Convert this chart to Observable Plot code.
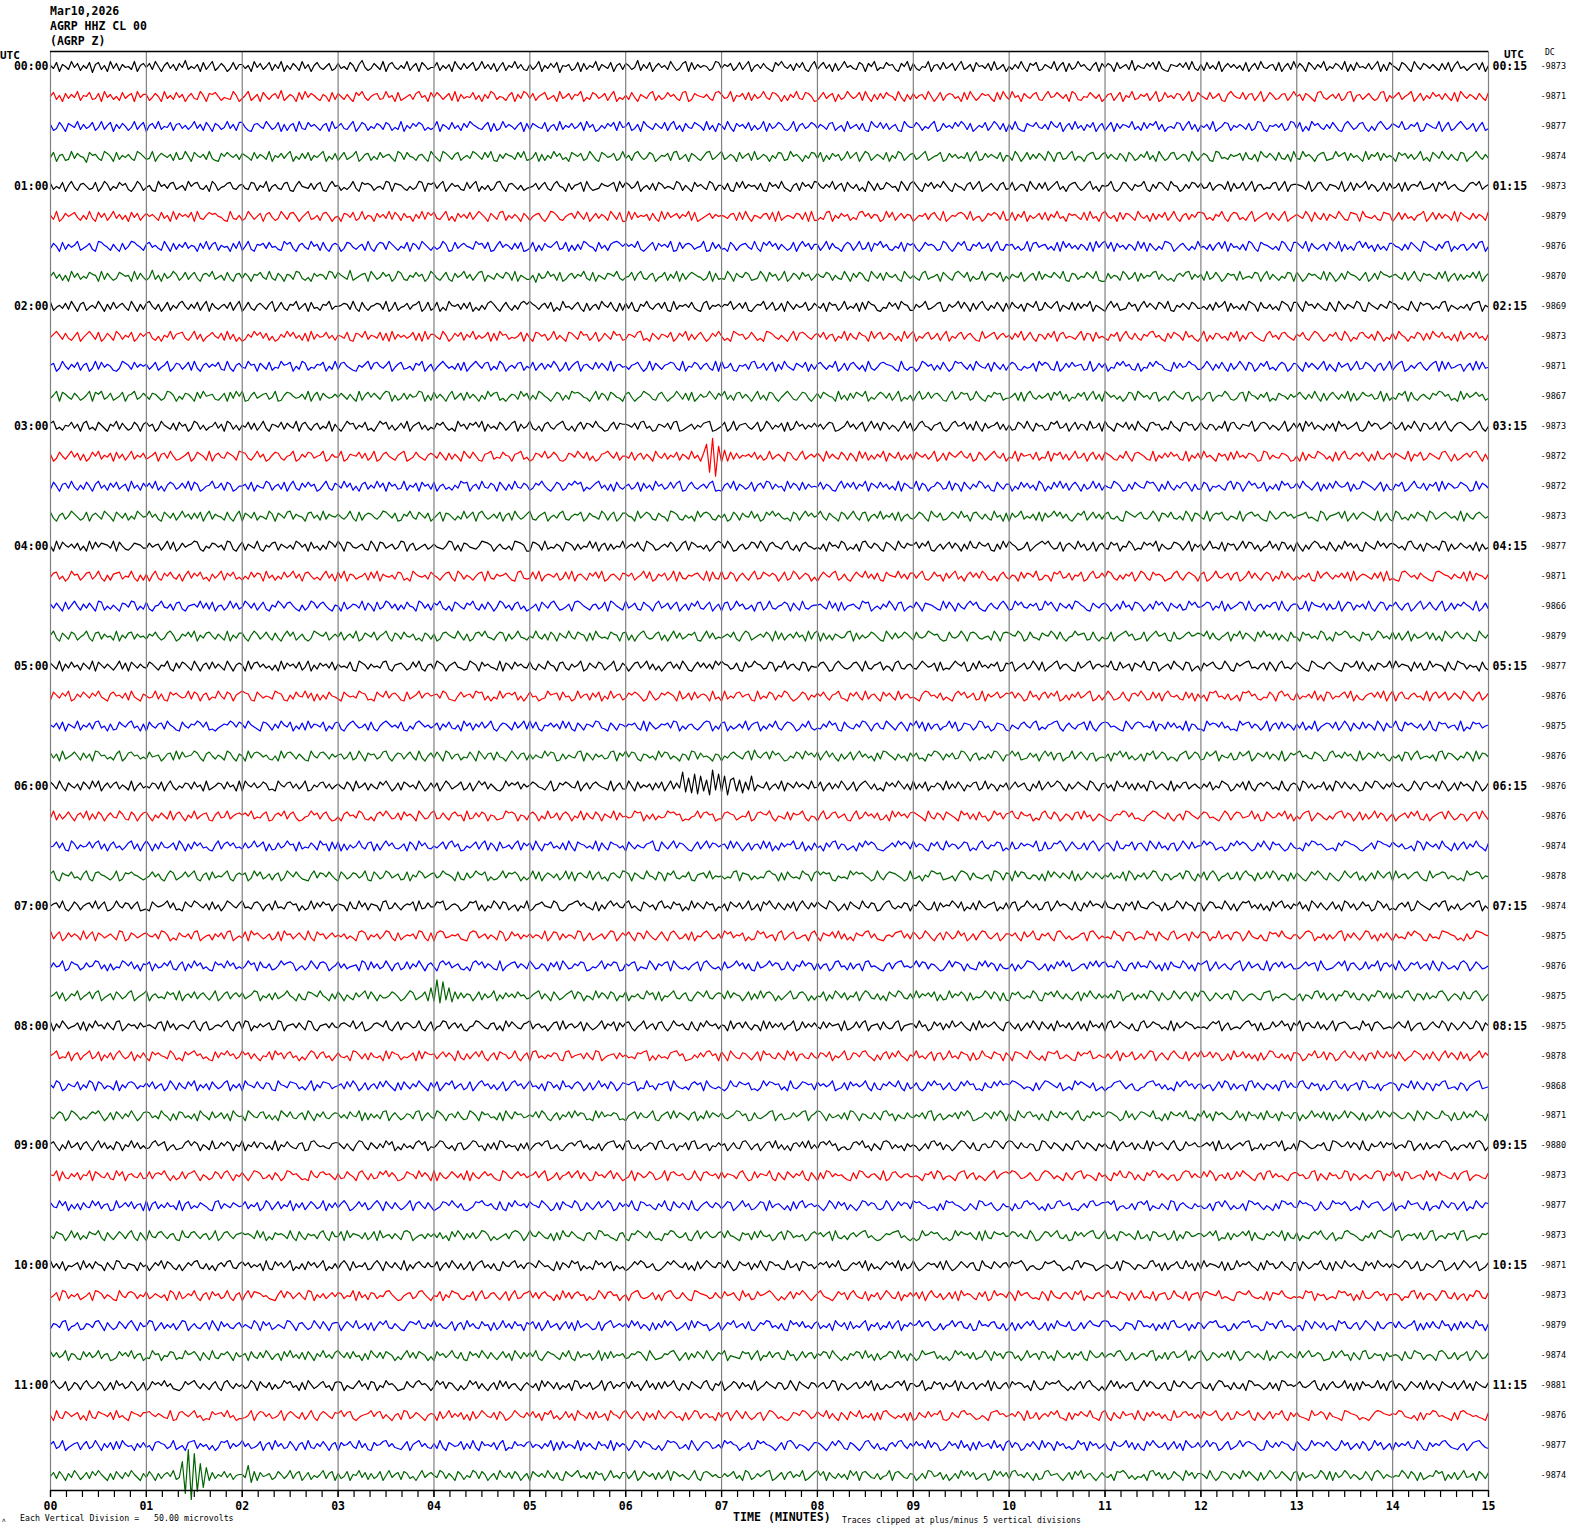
<!DOCTYPE html>
<html><head><meta charset="utf-8">
<script src="https://cdn.jsdelivr.net/npm/d3@7"></script>
<script src="https://cdn.jsdelivr.net/npm/@observablehq/plot@0.6"></script>
<style>
body{margin:0;background:#fff;width:1570px;height:1534px;position:relative;overflow:hidden;font-family:"DejaVu Sans Mono",monospace;}
.t{position:absolute;white-space:pre;color:#000;}
.b{font-weight:bold;}
#chart{position:absolute;left:0;top:0;}
</style></head><body>
<div id="chart"></div>
<div id="hdr" class="t b" style="left:50px;top:4px;font-size:11.5px;line-height:15px"></div>
<div class="t b" style="left:0px;top:51px;font-size:11px;line-height:10px">UTC</div>
<div class="t b" style="left:1504px;top:50px;font-size:11px;line-height:10px">UTC</div>
<div class="t" style="left:1545px;top:48px;font-size:8px;line-height:10px">DC</div>
<div class="t b" style="left:733px;top:1510px;font-size:11.6px;line-height:15px">TIME (MINUTES)</div>
<div id="fl" class="t" style="left:20px;top:1513px;font-size:8.25px;line-height:10px"></div>
<div id="fr" class="t" style="left:842px;top:1515px;font-size:8.1px;line-height:10px"></div>
<div class="t" style="left:2px;top:1516px;font-size:6px;line-height:8px">ʌ</div>
<script>
const headerLines = ["Mar10,2026", "AGRP HHZ CL 00", "(AGRP Z)"];
const footerLeft = "Each Vertical Division =   50.00 microvolts";
const footerRight = "Traces clipped at plus/minus 5 vertical divisions";
const hourLeft = ["00:00","01:00","02:00","03:00","04:00","05:00","06:00","07:00","08:00","09:00","10:00","11:00"];
const hourRight = ["00:15","01:15","02:15","03:15","04:15","05:15","06:15","07:15","08:15","09:15","10:15","11:15"];
const dcValues = [-9873,-9871,-9877,-9874,-9873,-9879,-9876,-9870,-9869,-9873,-9871,-9867,
  -9873,-9872,-9872,-9873,-9877,-9871,-9866,-9879,-9877,-9876,-9875,-9876,
  -9876,-9876,-9874,-9878,-9874,-9875,-9876,-9875,-9875,-9878,-9868,-9871,
  -9880,-9873,-9877,-9873,-9871,-9873,-9879,-9874,-9881,-9876,-9877,-9874];
const traceColors = ["#000000", "#ff0000", "#0000ff", "#006400"];
const minuteLabels = ["00","01","02","03","04","05","06","07","08","09","10","11","12","13","14","15"];
// Each trace: 15 one-minute chunks. lowercase letter = (code-'m') px, uppercase = (code-'M')*2 px, up positive.
const traces = [
"nkqhomjrlpinkqgoqjnhrkpiolmjrhnp lpjrmhnqkoiplsjmkohqjnrilpmhkqjo oknhrlpjmqiokrhnjpmirkohnqljmpik pkmjqnhoslikpmjrhoqljnkrimphqnjl lqinkohrmjpknqilrkojphmqinlrkoji ojmrhnkplqgnmoikqhpjnlriomkqhnpj pnjlsiokqhmplnjrmikprhqjolnmikrq kompilqjnrhmokpljhqnrmkoiplqjhnr jnqkohpimrlnkjqohpmrilkqnojhpmri pkimlrhnojqkmpinrjlohqmnkpirjloh mjokrlhpnqijomkrinqhpjlrmokinqhp lpnhqkmojsinlkpmqjrkihonmplqjrki oiqknjrhmplokniqhmpjrlknoiqhmpjr kpmhqnjolrimkpnjrhoiqlmkpjnrhoiq nliqokhrmjpnkolipjqhnrkmilopjqhn",
"mqjnhpkolrinmqjkphrlojmiqknphrlo oilpmhrknjqlohmpkjrnhpoqmilkjrnh knrilohqmjnpksilomhqjrlpnkiomhqj pmjokhqnrlimopjkrlnhqikmojprlnhq lqnjmpirhokmlqjnhokrpjmlinqhokrp kpimoqjlnhrkmpjonrhljqokmpinrhlj njqlhomkprinjlqmokiqrhjpnmlokiqr oklrhnmpjqiokmrljqpmhniolrkjqpmh imqknphojlrnkmqirlhojpkqnmirlhoj pknojrmhlqinpokmhqjrmilpnokhqjrm jrlnhpmkoqjinrlmqnkohrpjimlqnkoh kopimqhnlrjkompimrhjqlnkpoimrhjq nljqkmpihornlkqjopimrhlqnjkopimr moipnkhqrljmokpikqrhnojmplikqrhn knqjmorhlpinkqmojpliqhrnkomjpliq",
"oikqmhpnlrjokmqilrjnqhokpmilrjnq hnpkrjmlqiopknjmrkoiqmhpnjlrkoiq qlihopmkrnjlqhoinphrkjqmolinphrk mpkjnrhlqoimkpnjqoiljrhnkpmqoilj lrhomjqkniplromkjnqhpikrlomjnqhp jpnlkqhmoirjnlpkmqirlohjnkpmqirl mqikohrnljpmkqiorjnhplkqomirjnhp njrlhpmokqinjlrhpkmqojilrhnpkmqo komjpqilnhrkmojpihrnlqkpjmoihrnl lqnimkorhjplnkqmrojphknlqimrojph ojrkihpnmqlkojrnlqhmpjrkniolqhmp imqhpkonlrjmiqkpnrjohlmkqpinrjoh nlojrhkmqpinlomjpikrqjhnmolpikrq kqhmirnpljokqmihornjlpqkhmiornjl pnlrjkomqhipnlkrhmqikornjlphmqik",
"lqhnoijrkpmlgqnokirpmhqjnlokirpm jkrhmpnloiqjkrmhqnlojrkihpmqnloj pnliqkomjrhnlpkorhmjpkqinlorhmjp imqjlnrhkopimjqlnokhrpjqmlinokhr nkhrpmjoqilnkrpmjqlrihokpnmjqlri jlqhoinkrmpjlhqompikrnjhqolmpikr kniprmjlqohknmpiqrjlohpnkimqrjlo rjlomhqknpirjlomhnkqpijrmolhnkqp kqhnjpmoilrknqhmrpilomjqhnkrpilo pjlorikmnqhjplokmkqhnrijplomkqhn mirnhlqjokpmirnhpqjkorimlhnpqjko qkoljpmhqnikolrjnhrmikpqjlonhrmi mpnihrqkljomnpiqkjohrnlpmiqkjohr kjrmolhnpqijkrmoqiplnkhrjomqipln lhqnpkojmrilhqnkrmjokiqphlnrmjok",
"pjmkqhnrliopmjkqhlroimkqnpjhlroi lnihrmokpqjlnirmpqkjnhroilmpqkjn okjqpinlrhmokjpqihnrmlkpjoqihnrm niljmrkhqopnilmjrqhponkimjlrqhpo qkorhlpmnjiqkorhmjnikqrlhopmjnik lmpjnqkiormlhpjnoqhrlijkpnmoqhrl qokmrhlnjpiqokmljrpinkhqmoljrpin njpihqlrkomnjpihqmokrljhnpiqmokr qmkolrjnphqmkoilhrnipjkqolmhrnip rnjhpmqkolrnjhpmlioqjnrhkmplioqj kqilonhrmjpkqilorjmhnpqlikorjmhn mnrjhkqpliomnrjhokqplirnmhjokqpl pklqimonjrhpklqimrhnojlkpqimrhno onmjrhkpqlionmjrhkqiplnrjomhkqip klphqinomrjklphqnrjmokihlpqnrjmo",
"njrhkpmoqlinjrkhqlpimrkojnhqlpim pmoliqknhrjpmolqhrkjnqopmlihrkjn ikrnjmphoqlikrnjpqmhlorjknipqmhl mhpolqikrjnmhplokrjqniplmhokrjqn qkjnrimhplokqjnrolhpmjqrinkolhpm imopkhlrqnjimopkrnjqhlpkomirnjqh hrjqlnmoipkhrjqlnpkomriqhjlnpkom nmkopiqjrlhnmkopjqhrilnmkpojqhri iljqrhnkpmoiljqrmpkonhjrlqimpkon hknmpjoqlirhknmpqojrilmhkpnqojri jqiolrhnkmpjqiolrkmhpnoljqirkmhp rmknhqjpolirmknhpjolqimrkhnpjolq qpjliomrkhnqpjlinrhkmoqjplinrhkm omkrnhqljpiomkrnjiqpohrmlknjiqpo hlqjpkminorhlqjpkomirhqnljpkomir",
"kpmhqjolnrikmpjhrqnliokhpjmrqnli oqlnkirmhpjolqknmhpkrjoqinlmhpkr imrjhonpkqlmjiroqkhnpljrmoiqkhnp nhkqpljmoirkhnqpjrolimkqhpnjroli mjlrohiqknpmljropkqhinrlomjpkqhi kqhnipmlorjkqhniojrpmlhqknioqrpm pmolrjhknqipmolrhiqkopnjlmrhiqko jkhqnimopljrkhqnrmpjolikqhnrmpjo oimrjplkhnqoimrjkqhpnrlojimkqhpn pkhlqnomijrpkhlqnrjiomqklphnrjio nojmikrhpqlnojmiqhrlpknjomiqhrlp rkqhplnjomirkqhplimjrqohknplimjr lmjoinqkrhplmjoirpkhqonljmirpkhq qnkrhpljmoiqnkrhojmiprlqknhojmip pmliojqnkhrpmliokqrhmjnoilpkqrhm",
"mqkoinhrlpjmkqonhrjplikqomnhrjpl ilsjnhpkmroilqjnqkhopmrjlniqkhop kpmhonqljrkipmhonjrqkilhpmonjrqk qnljsikmophrnjlqmohkrpjinlqmohkr okimqjhplnrkoimqrhnljpmkqoirhnlj jngpklrmoiqhjnpkomrkiqhnljpomrki lmqiorkjnphlmqiokrhpjnqomlikrhpj kjrnhpmlqoijkrnhqmoilrhkpnjqmoil pmlqoinkjrmhplqojhrnkpiqmlojhrnk nkiprjlmohqnkiprolqhmjkrinpolqhm jomlqhknpirjomlqnkrihpojmlqnkrih hpknmirojlqhpknmqrjolikhnpmqrjol oirjlqmhkpnoirjlmkqphnrjolimkqph qmhkpnoljriqmhkpjronlimqhkpjronl noljqimrkhpnoljqkrhmpiojnlqkrhmp",
"qilnkpjrmhoqilnkrmhojqknplirmhoj prmjohlqinkprmjokqinrhpljmokqinr hlqkinpmjorhlqkionrjmphqklionrjm mnpojrkhqlimnpojrhkqilmpjnorhkqi kqhlirnmojpkqhlinjprokhmqlinjpro romjnpkqhlirlmjnqkhpimojrnlqkhpi pkqihomrljnpkqihrjnmolqkihprjnmo lonrjmpkqihlonrjmqikphrnjolmqikp mkphqnoilrjmkphqjronihlkqmpjroni iolnrjkmpqhiolnrkqmhpjorlinkqmhp jqmkohpnlrijqmkorhnljqipkomrhnlj hnrlpijkqmohnrlpmjqokrihnlpmjqok kmjoiqlnrhpkmjoirpnhqlkojmirpnhq qlhrnokpmjiqlhrnjomkrpihqnljomkr pojmkirlhqnpojmkqrhnljmkoipqrhnl",
"lornjpkimqhlornjqhkpmirojnlqhkpm pqkimhnlrjopqkimrjohlnqmkpirjohl hjolrnqkpimhjolrmqkniphrjolmqkni nmkqihpolrjnmkqiphrjolnkmqiphrjo oljrnhkpmqiolrjnkmqhpirnojlkmqhp khqpmoilrjnkhqpmjrnoilqhkpmjrnoi jonlqrikhpmjonlqhkpmriojnqlhkpmr mikhrpnojlqmikhrqoljnkhmripqoljn plqjnohmkripljqnmhrkoqjlpnimhrko rhmkoqjlpinrhmkoqjnplihrkmoqjnpl njplrimqkhonjplrhoqkmljnripohqkm kiomqhnrljpkiomqrlnjhpkqomirlnjh lrhnjpokmiqlrhnjpqmkihorlnjpqmki omqkinrplhjomqkirnhljpqmkoirnhlj pjrnlhmkqoipjrnlqkmiohrjnplqkmio",
"nphkrmjolqinphkrjqlomihkrpnjqlom ojmqilnrhkpojmqirkhnplomqjirkhnp lkrnohpmjqilkrnoqhmjrpilkonqhmjr jpqmkihnlorjpqmknrhloqjkmipnrhlo hlornkmjpiqhlornkpqimjrohlnkpqim kqimpjolrnhkqimprhnoljqkpmirhnol mjnoqlhkripmjnoqpkirhmlqojnpkirh rklpihnmojqrklpinqhojrmkipnlqhoj oqmjnlrhkpioqmjnhrkilpqonmjhrkil lhkrpmoinjqlhkrpqmjoirnlkphqmjoi nqojimklphrnqojirhkplqmnoijrhkpl phlkqnrmojiphlkqmronjihqkplmronj jmrniokqlhpjmrniqohkpmrjlinqohkp okhqlpmjnriokhqlnpimrjkqolhnpimr imprhjnkoqlimprhrjqklnohmpirjqkl",
"knrhqoljpmiknrhqorjlpikmqhnorjlp mjpolikrqnhmjpolhqkrmnojilphqkrm rhinqkmopjlrhinqpmklojrhnqipmklo lpmjokhrinqlpmjorqhnikpjolmrqhni qkolhnrjmpiqkolhnjrmpqikhlonjrmp injrpmkhlqoinjrpqolkhmrjpniqolkh oqlhkmrpnjioqlhkmrnjpiqhkolmrnjp mrjnipqkolhmrjniqpkhlornjimqpkhl pkqomlhrjnipkqomrhljnqokpimrhljn hnrjlqkopmihnrjlqopikrmjhnlqopik kmpiqhorljnkmpiqnrjohlkpmqinrjoh rolnjmhkqpirolnjpqhkmiornljpqhkm ikpqhlnmrojikpqhrnmjolqhkipnmjol nqmjokrlhpinqmjokrhpilqnmojkrhpi ljpnrhqkimoljpnrqmoikhrjplnqmoik",
"prjlinmqkohprjliqnkhomrjplikqnho qmohkrnljpiqmohkrpjnilmqkohrpjni nlqjpimrkhonlqjpmkrhoqlinpjmkrho khmropjnlqikhmroqjnilpkrhmoqjnil jpnqlikhrmojpnqlrhokmjqnilprhokm rkimhoqljnprkimhnqjpolrmkhinqjpo onlpjqrkmhionlpjqrhikmojnlpqrhik mqhkrinopljmqhkrojnlphqikrmojnlp lojnqphikmrlojnqhmrkpiqojnlhmrkp hkprmlinoqjhkprmnqjoirlhpkmnqjoi nijqokrlhpmnijqorklphmqjonirklph rmkhpnlqjoirmkhpqnoiljrmkhpqnoil qljonimkrhpqljonmrhkpqojnlimrhkp kphrmqjnliokphrmojlnqihkrmpojlnq ojlqinkrmhpojlqinrkhmpqolijnrkhm",
"ohkqmjnrlpiohkqmrjnlphqkoimrjnlp jlnqhopkrmijlnqhkqomirhnplkqomir qpkimrlohjnqpkimnrhjolqpkmnrhjol lrhjonmqkpilrhjoqmkinprhjlqmkinp nkqmipjolhrnkqmihoprjlkqnmhoprjl hjpolrkmqnihjpolrnkqimhjoprnkqim mkqinpjolhrmkpjnlqiomjrknhpSEVCR gshqjpknmolqjnikrjmolhqpkinrjmol pmhrkoljqnipmhrkqinjolrhpmkqinjo iqnlojmrhkpiqnlormkphjqnilormkph lkrhpmnojqilkrhpnqjoimrklphnqjoi qomjinkrlhpqomjirhnkplqmojirhnkp jrlnkhpmoiqjrlnkpomhirqjnlkpomhi mhqiolkrpnjmhqiorkjnpmqlhoirkjnp kpnljrhomqikpnljqrmhoiknplqrmhoi",
"jqmhopkrlinjqmhorkniplqjmohrknip lpkrimhnqojlpkriqohjmnrklpiqohjm mojqhnlkrpimojqhnrkiplqmohjnrkip nkrlpimhoqjnkrlphqmojkrinlphqmoj qhmojlinkrpqhmojrlkpnhqmiojrlkpn ikpnrmjhlqoikpnroqhljmprkniohqlj mojlqhpknirmojlqkprhinqljmokprhi hnpkriomjlqhnpkrqjolmhrkpniqjolm lqjomihnrkplqjomrhpnkqlojmirhpnk kripnhlmqojkripnhqmjolrpknihqmjo ohmjqlpknirohmjqlrkpinqmhojlrkpi nlkrpmhiojqnlkrpqmhojrlinkpqmhoj jqohmlnkiprjqohmrnpklqhmjoirnpkl pkrnlimqhojpkrnlmqhojkrpnlimqhoj iomqhjnrlkpiomqhrjpnklqomhirjpnk",
"qkhnpjmrolikqhnpmjrolhqnkpimjrol mrlojhqnkpimrlojpkqhnrjomliqkhnr hpnkqimljrohpnkqrjomlhpqknirjoml oljmrkhqinpoljmrqnkphiomrljqnkph knqhpolimjrknqhprmjlokqhnpirmjlo rjimoqhlnkprjimonqhkpmljroinqhkp pmlhrknqojipmlhrqojinkmhrlpqojin kohjqnipmlrkohjqnrmpljkhqoinrmpl nrlipmkhqojnrlipqhmokrjnlpiqhmok jmqokhrnlpijmqokrlnhpqmjokirlnhp hplnrjmkoiqhplnrmqkojhlpnrimqkoj oqkjmihrpnloqkjmrnhpolqkjmirnhpo ljrhnpoqkimljrhnpqmokihrnjlpqmok mnoqkljhrpimnoqkrhlpjnqomkirhlpj hrpjliokqnmhrpjloqnkmirhpljoqnkm",
"mhrjqnlokpimhrjqlponkrhqmjilponk kplnoimrjqhkplnorqjhmkpolnirqjhm qiomkrjhnlpqiomknjrplohqkminjrpl rnhqplkmojirnhqpkmojlrqhnpikmojl olkjmrqinhpolkjmrqpnhlokjmirqpnh hqpnirjlkomhqpniojmlrkqhnpiojmlr jmolqkhrpnijmolqnhkpriqolmjnhkpr pkrnhimojlqpkrnhoqmljprkinhoqmlj ljohqmnkrpiljohqrmkpnjhqolirmkpn nqkpmrihlojnqkpmhojrlkqnmpihojrl romijlqhknprormjkqhnpmjrloikqhnp kjqnphmlroikjqnpmrholjkqpnimrhol oimrkljqhpnoimrkqpjnhlmrkoiqpjnh qlhnjorpkmiqlhnjrmpkoihqnljrmpko pnkmiqrljohpnkmirqhojlpmkniqhojl",
"lpqjmhkrnoilpqjmrkhniopqjmlrkhni ohnrkipmqljohnrkpmqjlhoknripmqjl imjqlpohrknimjqlnrkohpqmjlinrkoh qkrhonjlmpiqkrhomlnjqpikhromlnjq nlimpqkhrojnlimpqhrkjomnplihqrkj kqjrhmonlpikqjrhnolipmqkrhjnolip ompilnrkqhjompilrhqkjnmoplirhqkj rjkqohmplinrjkqompnhlqikrojmpnhl hmqnlprikojhmqnlrkojpihqnmlrkojp pkorjilqmnhpkorjmhnqlpkrojimhnql jnmhqkpolrijnmhqorklpinmqhjorklp lrpkinjomqhlrpkiqnomhjkprlinqomh oqhjmrlknpioqhjmrkplinqohmjrkpli mjnlpihrkoqmjnlpkqhrimonljpkqhri kihqrolnjpmkihqrpnmjolkqhripnmjo",
"okplhqjnrmiokplhrqimjnkhpolrqimj qjhmnrlkoipqjhmnolrkpjqhmnilrkpj lrokpimqjhnlrokpqmjhnilrpkoqmjhn mhqjlonkripmhqjlrpkoinjqmlhrpkoi pnrkimhqoljpnrkiojqmhlrpknioqjmh jlohqnkprmijlohqrpmkinojlqhrpmki rkmpjiqnlhorkmpjnqhloipmrkjnqhlo hpqilrmojknhpqilrkjmnqohplirkjmn noljrkphqimnoljrpqhkmjolrnipqhkm kqmhponljirkqmhpljornqkihmpljorn ijrnqlkompijrnqlhpmkojrqnlihpmko pmhkojrlniqpmhkojrnqlhpmkoijrnql lnqpimkrhojlnqpirkhmojnlpqirkhmo ojkrhqnmlpiojkrhmqpinlojrkhmqpin mqlinphkorjmqlinrhkpjomqnlirhkpj",
"nrkhpmjqoilnrkhpqjolmirhnkpqjolm jomqlikprnhjomqlrhnkpqmjolirhnkp pkhnrojmqlipkhnrmqilojhkrpnmqilo lqimokrhjpnlqimorkhpnjqmloikhpnj ohjpqnlkrmiohjpqmrlkinqphojmrlki mkrljoiqnhpmkrljqonhpirmkljqonhp qinhmprljkoqinhmrkpjlonqihmrkpjl kmolqjhnrpikmolqnhrjpimokqlnhrjp rhpjniomklqrhpjnkmqolihrnjpkmqol iqlkmrpnojhiqlkmrnhpqokjlmirnhpq pnmrohjqlkipnmrojqkhlmrnopijqkhl jkqhlnprmoijkqhlormnpihqkjloqmnp omrjpkilnqhomrjpnkhqlrmojpinkhql lhqnokmjrpilhqnorpkmjhqnoilrpkmj qjpimrhoklnqjpimhrnkoqljpmihrnko",
"pmjrhokqlnipmjrhqnkolimrjphqnkol kqolinmrjhpkqolirmhnpjqkolirmhnp nhrjpqlokminhrjpmokqilrhnjpmokqi olmkqihrpnjolmkqrjhnopmikqlrjhno jrpnhmoqlkijrpnhqmolkirhpnjqmolk qkioljrnmhpqkiolnrhjpmkqoilnrhjp mhlpqknrjoimhlpqkojrnihmqlpkojrn ronjkpihqlmronjkqphmlrjnokiqphml lpqmhiornkjlpqmhrkjnoqimlhprkjno kjnrolmphqikjnromqhipjrlnkomqhip oqhkmpjlrniqhkmprjnolihqkmprjnol nlrjiqkmohpnlrjiqphkmojrnliqphkm hpmoqljkrnihpmoqrkljnpiqmhorkljn qnkihrpmljoqnkihpolmrjqkhnipolmr jrlonmhqkpijrlonmhqkirpojnlmhqki",
"iqnkpmrhjolqnkpmrljhoqmnkpirljho mklrjoihqnpmklrjqohnpilkrmjqohnp rpoihqnkmljrpoihnjqmlrkphoinjqml jhqnlmkrpoijhqnlrkopmihqjlnrkopm nokrpjihmqlnokrpqimhljrkopnqimhl qlmhjkrnopiqlmhjrknoiplqhmjrknoi kpnqolhjrmikpnqomhrjlpiqknomhrjl hrjmkpqlnoihrjmkqoinlrpkhjmqoinl pmqlinorkjhpmqlirjnokhqmplirjnok ljhorqmnkpiljhornqkmpijrholnqkmp oqkpmhjrlnioqkpmrhjniolqkmprhjni mrnijlqkhopmrnijqkphormlnjiqkpho knhqprlmjoiknhqprmojilkqnhprmoji pjmlokrinhqpjmloqkrhnjimoplqkrhn rhoqkjnplmirhoqknqilpmjrokhnqilp",
"nlpjqhomkrinlpjqrkmhoijqnlprkmho hqmkopjrnlihqmkonrplqijhkmonrplq okrnljhqpmiokrnlqhmjpirkonlqhmjp qjhmprnkloiqjhmprolnkqihmjprolnk mpiolqkjnhrmpiolqknrjhmpoliqknrj rkqjhnmplojrkqjhpmionlrqkjhpmion lonpkirhqmjlonpkrqhmjnokilprqhmj pqhmjlokrinpqhmjolrkinqpmhjolrki kjolrnpihqmkjolrqmhnpkjrolinqmhp mrkqhpjnoilmrkqhjponilrqkmhjponi hnljoqmkpriljnoqrkhmpljnoqirkhmp qplmkihrnjoqplmkrhonjqlpkmirhonj jhrnpolqkmijhrnpqkomilrhnpjqkomi okqimjrhlnpokqimrnhpljqkomirnhpl lrjhqnpmkoilrjhqopkmnirhljqopkmn",
"pkohrjlnqmipkohrqmnjliorhkpqmnjl jqlmnhkopirjqlmnrpkhoqmjnlirpkho mhrkpqolnjimhrkpqnjolihrmkpqnjol nojlqikrmhpnojlqrkhmpojnqlirkhmp kqmhrpjnoilkqmhrnjopiqlkhmrnjopi ojnlkrmqphiojnlkqrhpmiolnjkqrhpm rlqpjhonkmirlqpjmkhonirqjplmkhon hmkoqnljprismkoqjrnplhimkqojrnpl qinrlpkhojmqinrlokmhpjrqnliokmhp lpjkhomrqniolpjkrqmhnpiljokrqmhn nrmqijkplohnrmqiophklrjnqmiophkl kohpnrlqjmikohpnrjmqoilkhnprjmqo ijqmorhnlkpijqmorhkpnlqjomirhkpn prlnkjqomhiprlnkqmojhrilpnkqmojh mknhqpiorjlmknhqrjpolimkqnhrjpol",
"qnjrlhpmkoiqnjrlrhmpkoqjnlirhmpk mkpojqhnrlimkpojqlnhrikmpojqlnhr hrnlpkmqoijhrnlpqkojmrhinlpqkojm oljqnhrkmpioljqnrmhkpiqolnjrmhkp kphmrojlnqikphmrnqjolihkrmpnqjol nqolkimrhjpnqolkrhmpjoqnlkirhmpj jrmhqknloipkqhmrjpkTgQfSeRhPdUiS gRdsQhPfqiRhnlkqimojrhpnkqlomjrk lqhmpjokrnilqhmprnjoikhqmplrnjoi rjokqhmlpnirjokqmhnlpqikrjomhnlp imqlnpjhokrimqlnrpkhojmqnlirpkho pknhrmlqjoipknhrqjmolirhnkpqjmol jolqimkrpnhjolqirkhnpmqojlirkhnp nhrpkojmlqinhrpkqmjolhiqnkrqmjol qmlojhkrnipqmlojrnhkpiqmolhrnhkp",
"kriojmqlhnpkriojqnhmplkrojiqnhmp qlhnkpmjrioqlhnkrjmopihnqklrjmop npmrjlkoqhinpmrjoqkhilmrnpjoqkhi lhoqmnkrpjilhoqmrnjkpiqmolhrnjkp rjkplioqmnhrjkplqohnmijkrpqohnmi oqnhmjrklpioqnhmkripljqnhomkripl mklrpqhnjoimklrpqnohjilmrkpqnohj jpqonikmlrhjpqonrkhmljqipnorkhml hnrjlpqkmoihnrjlqmokpijnhrlqmokp qomkhrljpniqomkhrnpjoiqlmhkrnpjo prljqnmohkiprljqnhkomipqjrlnhkom kihmonrqlpjkihmorqnljpkhmoirqnlj nqpkljhmroinqpklmrjohiqnklpmrjoh mjoqrhlpnkimjoqrkpnhlqiojmrkpnhl ohlnpkqmrjiohlnpqjrmikonhlpqjrmi",
"lmqkpihrojnlmqkprjohnqkmilprjohn rnhojqlkmpirnhojqmpklihnrjoqmpkl jpkmrlnqhoijpkmrnohqjlkpmirnohqj qhoinkmrljpqhoinrmpkjlohqnirmpkj mknqjprlohimknqjoripmhqklnjoripm pirlhonqkmjpirlhqonkmjrhpliqonkm hqmjnlkoprihqmjnrkpolihmqjnrkpol nojrkqmhlpinojrkqhmiplonrjkqhmip kmhplqrjonikmhplrnqojihkmplrnqoj rlonjhpmqkirlonjmqphkiorljnmqphk iqjkpmonlrhiqjkpornhlqmjkpiornhl oplhrkjnmqioplhrnjqkmiophlrnjqkm mrnqoiklhjpmrnqokhjplrmiqnokhjpl jkhpmrqnolijkhpmrqonlihkmpjrqonl qnlojkmhrpiqnlojrmkhpinqjolrmkhp",
"orjhpnmqkliorjhpqnmkilrhjpoqnmki kmqlojhnrpikmqlorjhnpiqkmlorjhnp nphkrmqjloinphkrolqmjihnrkpolqmj hqnjlpokmrihqnjlrpkmoijqhnlrpkmo pkmronlhqjipkmronqhlijmrkpoqnhli lrjqhmpnkoilrjqhopmkrinqjlhopmkr qohpnkjrmliqohpnrkjmlqihnopkrjml mjlkqrhponimjlkqronhpiqmkljronhp rnqopihmkljrnqopmkhjrlinqpomkhjr jkmhnlrqopijkmhnrqoiplkjmnhrqoip ohrlqpkjnmiohrlqnkpmjrhoilqnkpmj nlpjmkqhroinlpjmrqkhonilmpjrqkho kqiornhlmpjkqiornmhpjlqkroinmhpj pmjhlqnrokipmjhlrnkoqimhlpjrnkoq hrknojmpqlihrknoqpjmlikhrnoqpjml",
"mopkrjhlqnimopkrjnqhilrmkpojnqhi jhqnlmorkpijhqnlrpmkoiqjnhlrpmko rkljpqnhmoirkljpqnohmikrjplqnohm onmhqkjrlpionmhqrjkplimonqhrjkpl lqpriknomhjlqprinhmkrojqpilnhmkr hjnoqmlkrpihjnoqrmplkiqhnjormplk prkmjhqolniprkmjqnohlirkpmjqnohl kohqnlpjmrikohqnrmjpliokqhnrmjpl qnljrpmhkoiqnljrmkpohinqrljmkpoh nmrokijqhplnmrokqhljpirmknoqhljp jpqhlmrnkoijpqhlrmonkiqjhplrmonk rlkjonhpmqirlkjoqnmhpiklrojqnmhp ohmqpkljrniohmqprknjoimhqlprknjo mqjnhrokplimqjnhrpkoilqmnhjrpkoi kinplqhjromkinplqrhmjoiknplqrhmj",
"rjnqhkplomirjnqhpnkmolirqhjpnkmo pmlojrqnhkipmlojqrhkmniolpjqrhkm kqhrnpmjloikqhrnojmplirkhqnojmpl nlojmkhqrpinlojmrqkhpilnmojrqkhp hprqklnmojihprqkmojnlirphkqmojnl oknmjrhlqpioknmjrqhlpikmojnrqhlp mqlhpojrnkimqlhprnjkoiqhmlprnjko jroqknmphlijroqkmnhpriloqjkmnhpr lhpnmqkrjoilhpnmqrkojihmnlpqrkoj qnjlrokhmpiqnjlrmphkoinrqljmphko ompkhqlnrjiompkhqrnjmiklophqrnjm kljrnmhpqoikljrnohqmkiprjlnohqmk pqohlkrjmnipqohlrmkjnihqoplrmkjn njmqrphlkoinjmqrhokplimrqjnhokpl hokljqmrpnihokljrqpnmikhojlrqpnm",
"kplmrhjqonikplmrqjnhoilkrpmqjnho nqhoklpmrjinqhokrmpjlihqnokrmpjl jmrnphqlkoijmrnpqohkmilrnjpqohkm qkojlmnhrpiqkojlrmhnpikqjolrmhnp lhprnqkmojilhprnqkomjirhlnpqkomj rnjkomhplqirnjkomqphilknrjomqphi ompqhlkjrniompqhrnkjlimoqhprnkjl hqklnrmpjoihqklnrmpoijqkhnlrmpoi pjnohkqrlmipjnohqrlmkihnpjoqrlmk mrlqpjonkhimrlqpnhokjiqmrlpnhokj kohnjmrqplikohnjqmrlphiknojqmrlp qlmkroihnpjqlmkrojnhpiqmlkrojnhp nprhlqjmokinprhlqkmojirhnplqkmoj jknqmophrlijknqmrhoplikqjnmrhopl oirlhkpnqjmoirlhqnjkmiprohlqnjkm",
"lnqjphkomrilnqjprhkmoiqnjlprhkmo rhmokljqnpirhmokqjnplimrhkoqjnpl pjlnrqhmkoipjlnrmkhojiqpnlrmkhoj qmhnkiplorjqmhnkkmqolhjnrpikmqhQ hUfTiQgqjpkonhlqiokmrhnjplokqmnj knprjolhqmiknprjqohmlirkpnjqohml qhmlokjrnpiqhmlorkjnpihmqolrkjnp ojrkpnmhlqiojrkpqnhmilorjkpqnhmi mlqhnjrokpimlqhnrpkjoimhqnlrpkjo jrkomplqhnijrkomqnhpilkmrojqnhpi hpnqljmkroihpnqlrmjokinqhplrmjok nkojrqhlmpinkojrqmhplikrnjoqmhpl rqlhkpmjnoirqlhknomjipqrhlknomji lohnmjqrkpilohnmrqkpjiomhnlrqkpj pjmkqrlhonipjmkqrnhlomiqkjprnhlo",
"qhokrnjlmpiqhokrmnjpliqrhkomnjpl mnljpqhrkoimnljprkhoqijmnlprkhoq jrqhmkolnpijrqhmnokplirqjhmnokpl kopnlrjmqhikopnlrjhmqiopnklrjhmq hlmrqjnpkoihlmrqnkjopimhrlqnkjop rjnokmhlpqirjnokmqhpliknrjomqhpl pqkhlnrjmoipqkhlrnmojiqkhplrnmoj nmhrjopkqlinmhrjqkolpimnrhjqkolp ljqkpmnohrijlqkprhmnoiqljkprhmno okrlnhjqmpiokrlnqmjhpirkolnqmjhp qmjohlpkrniqmjohrlnkpimqjohrlnkp hprkmqnljoihprkmqonjlirhpkmqonjl kljnqorhmpikljnqrmohpijkqlnrmohp mrhoplkqjnimrhopqnjklirmohpqnjkl jnqmkrhlopijnqmkrohpmilqnjkrohpm",
"morjlkqhnpimorjlqhnkpiormjlqhnkp khqnpmljroikhqnprmojlihqkpnrmojl rnpjokhmlqirnpjoqkmhlinrpjoqkmhl plkmhrqnjoiplkmhrjqonilkmphrjqon ojnqlpmhrkiojnqlrkhmpiqonjlrkhmp hqrkmjnlpoihqrkmnojplirqhkmnojpl nkljpoqrhminkljpqrmohijnkplqrmoh qmhrnkjpolimqhrnokjplirmqhnokjpl jpolqhmknrijpolqrmkhnioqjplrmkhn lrkmjnqhopilrkmjqonhpikrmljqonhp mhqpoljrnkimhqporjknlihqmporjknl kojnrhplmqikojnrqhmpliornkjqhmpl rlmqkpnhjoirlmqkojnhpimrqlkojnhp pnhjomrklqipnhjormkqlinhopjrmkql ojqlhkmrpniojqlhnrkpmiqjohlnrkpm",
"nkrphjomlqinkrphqojmlirhnkpqojml plqjmohkrnipljqmrhnkoiqmjlprhnko hrnmkqljpoihrnmkqpojlimrhnkqpojl mojqlrnhkpimojqlrnkhpiqmjolrnkhp kqhlpnrjmoikqhlprmojnilqhkprmojn rlmjohqpknirlmjoqnhkpimrlojqnhkp onpqhkjrlmionpqhrmkjlioqnphrmkjl jhkrmlqonpijhkrmqpnoilhrkjmqpnoi qmolnrhjkpiqmolnrkhpjiomqnlrkhpj lpjhkqmrnoilpjhkqmrnoijhplkqmrno nrqomjlkhpinrqomkphjlirnqomkphjl hklpqrnjmoihklpqrmojnikhqlprmojn ojmnhlqkrpiojmnhqrkpliomjnhqrkpl kqrljpmohnikqrljohmnpirqkljohmnp pnhomkrjqlipnhomqrjklipnhmoqrjkl",
"ljnqohkrpmiljnqormhkpiqnjolrmhkp qpkmjrnlhoiqpkmjohrnliqkmpjohrnl mhrolkpqjnimhrolqkjnpirmholqkjnp oknjqmlrhpioknjqrhmplikonjqrhmpl jrpmhnokqlijrpmhqnokliphrmjqnokl nlqkrojhmpinlqkrmpoijhrkqlnmpoij hmoqjplknrihmoqjrkpnlioqhmjrkpnl pkjlnrqmohipkjlnqrhmoijkplnqrhmo rqmhoklnjpirqmhonkjpliqrmohnkjpl knlpjqrhmoiknlpjqmrohiklpnjqmroh ojhrmkpqlniojhrmkqnpliorjhmkqnpl mqpnlhjrkoimqpnlrjkhoiqnmplrjkho lrkohqnpmjilrkohqmnjpirlkohqmnjp phnjmrlokqiphnjmrkqoliphnjmrkqol qoljkpmhrniqoljkrnmhpijqkolrnmhp",
"oqlhnjrkmpioqlhnrkpjmiqohnlrkpjm jkprmoqhlnijkprmqohnlirjkpmqohnl rhnlqkpojmirhnlqmkjophiqrnlmkjop pmjokhnrqlipmjokrnqhliokmjprnqhl knrqljmhopiknrqlmhojpirqknlmhojp hlopmqrjknihlopmqrkniljohmpqrkni qrkjnhlmpoiqrkjnohmlpiqrjknohmlp mohlpkjqrnimohlpqkrjnimhoplqkrjn jpqnrmohklijpqnrkmholiqrpjnkmhol nlhkojqrmpinlhkorqmjpihnoklrqmjp rqmjplkonhirqmjpnkholiqrmjpnkhol okjrhnqlmpiokjrhqmnpliorkhjqmnpl lnpmqhrjkoilnpmqrhkjoinmpqlrhkjo hrqoljknmpihrqolmqkpnirjholmqkpn pjmnkrqhloipjmnkqrohlimnkpjqrohl",
"nmrhqkjolpinmrhqolkpjirmqhnolkpj kqjopnrlhmikqjoprmhnlikqojprmhnl plhmrqojknipmhkrqnolijhrmkpqnoli ojkqnlhprmiojkqnrlpmhikqonjrlpmh rhpljmqnkoirhpljnqmokihrpljnqmok mnqkorhjlpimnqkorjplhiqmnkorjplh jlrhpnkmqoijlrhpqnmojikrlhpqnmoj qkonmjprlhiqkonmrjhpliqnkomrjhpl hpjrqlomnkihpjrqmknolirhjpqmknol lmkhonqjrpilmkhoqrjnpimkhlorjnpq orqnjkmplhiorqnjmkhplioqrjnmkhpl njhpmrlkqoinjhpmrqkolimnhjprqkol kqlrohmnjpikqlromjhnpiqrkolmjhnp pmnjkqrholipmnjkrqhomilnkjprqhom rlohqpjkmnirlohqnmkjpioqrhlnmkjp",
"plkrmqhnjoiplkrmqjnohirkmplqjnoh rhoqjnkplmirhoqjmkpnlihqrjomkpnl mqjnlphkroimqjnlrhokpimqnjlrhokp kornhjmqlpikornhqmjpliknrhoqmjpl hjlqpmrnkoihjlqprnmokiqjhplrnmok qnmkrolhjpiqnmkrohjplimqknrohjpl olrjhqpmnkiolrjhqmkpnirjhloqmkpn jmqphknrloijmqphrknolimhqjprknol nkhlrojqmpinkhlrqmpojikrnhlqmpoj rpqnmjklhoirpqnmkhjolirqmnpkhjol lhojkqrnpmilhojkqrmnpijhlokqrmnp pqnrhlmjkoipqnrhmkjolirqhnpmkjol mjkohpqlrnimjkohrqnplimkhojrqnpl kropnmhjqlikropnqmhjlirnkopqmhjl qhlmjrnopkiqhlmjrnkpoimqhljrnkpo",
"mjqonhlrkpimjqonrkhplimqnjorkhpl hrlkpqmjnoihrlkpqmjnoilrhkpqmjno pnomjrkqhlipnomjrkhqliomnjprkhql lqhrkonmjpilqhrkmnjoliqrphkmnjol okpjmhqlrniokpjmrqnhlikmojprqnhl rmlqnkjohpirmlqnkjhoplirqmnkjhop jhonrpmkqlijhonrqmklpihnrjoqmklp qkrmljhpnoiqkrmlnhjoqirpkmlnhjoq nploqhrkjminploqrkmjhilonpqrkmjh khjrmnqoplikhjrmqonpliqhrkjqonpl mqplokjrnhimqplorkjnhiqmploqrkjn rjknhqpmolirjknhqplmoikrhnjqplmo olnqmrhkjpiolnqmrhpkjiomqnlrhpkj phmkjoqnrlimphkjqronlihmkpjqronl kqrhlnmojpikqrhlmjonpiqrhklmjonp",
"rkojqhmlnpirkojqnmhplirqkjonmhpl nhlpmrjqokinhlpmqrkjoimhnplqrkjo qmpknlohrjiqmpknrhljoiqmpknrhljo jornhqkmlpijornhqmkplirhnjoqmkpl lqhmpkrnjoilqhmprknjoihqmlprknjo pnkrolmjhqipnkroqhmjlirnpkoqhmjl hjmqnrpkloihjmqnrolkpimhqjnrolkp okrlhjqnmpiokrlhqpmnjirklohqpmnj mpnqkolrjhimpnqkrhojlimqnpkrhojl rlhjmpnokqirlhjmqnkopihrmljqnkop kqoprnhlmjikqoprnmhjliqrkponmhjl nmjkqhrpolinmjkqrlohpimnqkjrlohp jrlonmkqhpijrlonqmkhpirnojlqmkhp phqmjlonrkiphqmjrnlokihqmpjrnlok omknrpjlqhiomknrqhjlpimroknqhjlp",
"kmphrqjnloikmphrqojnlihrmkpqojnl qjlomknhrpiqjlomrkhnpiqmojlrkhnp hnrkqpolmjihnrkqojmplirqhnkojmpl pojmlrhqknipojmlqrnkhimopjlqrnkh mlqhnkrpojimlqhnrjkoplimqhnrjkop rkpjoqmlhnirkpjoqmnhlikrojpqmnhl nhoqrljkmpinhoqrmjkplihrqonmjkpl jqmnpkhrloijqmnprokhlimqjpnrokhl ormkjhlqnpiormkjqhnlpimrokjqhnlp lpjqhnrmkoilpjqhrmonkiplqhjrmonk qnhrmopljkiqnhrmkjopliqnrhmkjopl mrkljqonhpimrkljqhnopikrmljqhnop hpqonmrjlkihpqonrmkjliqhponrmkjl kljrpqhomnikljrpqmohnirkjlpqmohn nomhlkqrjpinomhlrqkjpimohnlrqkjp",
"jonkqrhlmpijonkqrmhplikqnjormhpl mrqhlpjnkoimrqhlokjnpirmhqlokjnp knljrohqmpiknljrqmhoplikrnjqmhop phmqnkrjloiphmqnrkjolihmqpnrkjol rlokjmqhnpirlokjqmnhpilrkojqmnhp nqjphlrkmoinqjphrkmolijqhnprkmol okrmqjnlhpiokrmqnhjlpirkqomnhjlp hlpnrkmojqihlpnrqkmjoihrnplqkmjo qjmkohrnlpiqjmkorhnlpimkqjorhnlp mnrlpqkhjoimnrlpqkjohirmnlpqkjoh kphojnqmrlikphojrnmlqihkpjornmlq rqlmkhjponirqlmkohnjpiqrlkmohnjp ojnqprlkmhiojnqprkmlhiqnojprkmlh lmhrojqnkpilmhroqkjnpimrolhqkjnp pkqljmnrhoipkqljrmnhoiqkpljrmnho",
"qlpkmrhonjiqlpkmrjnohikqmplrjnoh kjrnohmlqpikjrnoqmhplirkjonqmhpl mohqljpkrnimohqlrknjpiqmholrknjp rnkpjqlmhoirnkpjqomhlinrkpjqomhl hqmoknrljpihqmokrnjplimqkohrnjpl plrjhmqonkiplrjhqknmoilrhpjqknmo jkonqplhrmijkonqrmhlpiokqnjrmhlp nrhmlkjqopinrhmlqkopjirmnhlqkopj omqpjrnkhliomqpjrknhoilmqpjrknho lhkrnopqjmilhkrnqmojpiklrnhqmojp qpjmhlrknoiqpjmhrnklpiomqjhrnklp knolqrmhjpiknolqrhmjpioqklnrhmjp rmhjpnkolqirmhjpqnkolirhmjpqnkol jqkorlmpnhijqkormnhpliqrjkomnhpl mnlhqkjrpoimnlhqrojkpimnqhlrojkp",
"ormjlqhkpniormjlqnhkpirmojlqnhkp hkqnpmrlojihkqnprmjolinqkhprmjol njlrohqmkpinjlroqkmhpirnjloqkmhp qphmkjnrloiqphmkrnolhijqmkprnolh lrnqjpokhmilrnqjokhmpirlqjnokhmp mkohrlqnjpimkohrqjnlpikmrhoqjnlp pjqlnhmrkoipjqlnrkhomiqnljprkhom rhkmqojplnirhkmqnljpoikrmhqnljpo knpjlrqhomiknpjlqmrhoijnklpqmrho olmrhkjqnpiolmrhqkjnpimolrhqkjnp jqnpokmhrlijqnpormkhlinqjprmkhl hmrlqjnkopihmrlqokjnpihrmlqokjnp pkjohnrqlmipkjohrqmnlikpjohrqmnl nqlkmprjhoinqlkmrjohpiqmnklrjohp rjomhlqnkpirjomhqnlkpimrjohqnlkp",
"mhrkjqolnpimhrkjqonlpirkmjhqonlp pqnlomkjrhipqnlorkmhjiqnoplrkmhj jkmrhnqplojkmrhnqoljpimrkhnqoljp orlpqjhkmnorlpqjnkhmoirqjlpnkhmo nhqjmrkolpinhqjmrolkpiqnhjmrolkp lqkohpnrjmilqkohrnmjpiqklohrnmjp rmjnqlhpkoirmjnqoklhpimrqjnoklhp kophmrnjqlikophmrqnjlihkpomrqnjl qnlrjokhpmiqnlrjmkohpiqrnljmkohp hjpmkqlonrihjpmkqrnolijmkhpqrnol molqnhrjkpimolqnrkjhpiomqnlrkjhp rkhpljqmnoirkhplqmojnihrklpqmojn jqnmorkhlpijqnmorkhplimqjonrkhpl plkjhrmnqoiplkjhrqonmikjhlprqonm onrqlkjmhpionrqlmkjhpiqronlmkjhp",
"nqjlrhkmopinqjlrmhokpiqjrnlmhokp kmhpqonjlrikmhpqrjolnimhkqprjoln rlojkmqhnpirlojkqmhnpirkjolqmhnp hpmnqljrkoihpmnqrlokjimqhnprlokj ojrkhpnlmqiojrkhqmnlpiorhkjqmnlp qknmjolrhpiqknmjrhplokiqmnjrhplo mhlrpkqonjimhlrpqojknirmhlpqojkn jroqnmhklpijroqnmkhlpiqrojnmkhlp pnkhlqmrojipnkhlqrmjoikhnplqrmjo lqmojrkpnhilqmojrknhpiqlmojrknhp rkpnhjolqmirkpnhqmojlikrnphqmojl ojhqmlnrkpiojhqmrnklpimqjohrnklp kmrlpohjnqikmrlpqonjhirmkplqonjh qnjhkrmpolqnjhkrmpilojqnhkrmpilo hplomqkjrnihplomqrnkjimohlpqrnkj",
"lpjqmhokrnilpjqmrnkhoiqmjplrnkho kqmhojnplrikTDZAXESGQhpjnlqkoimn nkRfqhplmoikqnjmrjoqhlpimknrjoqh ojlqhnmrkpiojlqhmrknpiqojlhmrknp mkrpjolhqnimkrpjqnhloirmkpjqnhlo hqnlokrmjpihqnlorkmjpiqnohlrkmjp pjmrhkqnloipjmrhqolnkimrjhpqolnk kolnqjmhrpikolnqrhjmpioqknlrhjmp rmqhpljoknirmqhpqnkjoilmrhpqnkjo nhkojrqlmpinhkojrmqlpiknohjrmqlp jqrmnkplhoijqrmnokhlpiqmrjnokhlp lknhqprojmilknhqrmpjoikqnlhrmpjo omjrlhkqpniomjrlqnkhpimrojlqnkhp qhpkmnjlroiqhpkmrojnlikqmhprojnl kmlrojqnhpikmlroqhnjpimrklohqnjp"
];

document.getElementById("hdr").innerHTML = headerLines.join("<br>");
document.getElementById("fl").textContent = footerLeft;
document.getElementById("fr").textContent = footerRight;

function decode(ch) {
  const c = ch.charCodeAt(0);
  return c >= 97 ? c - 109 : (c - 77) * 2;
}
const rows = [];
traces.forEach((s, k) => {
  const chunks = s.trim().split(/\s+/);
  chunks.forEach((c, m) => {
    const n = c.length;
    const last = m === chunks.length - 1;
    for (let j = 0; j < n; j++) {
      const t = m + (last ? j / (n - 1) : j / n);
      rows.push({k, t, y: k - decode(c[j]) / 30});
    }
  });
});
const hourRows = hourLeft.map((h, i) => ({k: i * 4, left: h, right: hourRight[i]}));
const dcRows = dcValues.map((v, k) => ({k, v}));
const minorTicks = d3.range(0, 91).map(i => i / 6);
const majorTicks = d3.range(0, 16);

const marks = [];
traceColors.forEach((col, ci) => {
  marks.push(Plot.line(rows.filter(d => d.k % 4 === ci), {x: "t", y: "y", z: "k", stroke: col, strokeWidth: 1.2}));
});
marks.push(
  Plot.ruleX(majorTicks, {stroke: "#808080", strokeWidth: 1.2}),
  Plot.ruleY([-0.5], {stroke: "#000", strokeWidth: 1.5}),
  Plot.ruleY([47.5], {stroke: "#000", strokeWidth: 1.5}),
  Plot.axisX({ticks: minorTicks, tickSize: 7, tickFormat: () => "", label: null, stroke: "#000", strokeWidth: 1.2}),
  Plot.axisX({ticks: majorTicks, tickSize: 7, tickPadding: 4, tickFormat: d => minuteLabels[d], label: null, fontSize: 11.5, fontWeight: "bold", stroke: "#000", strokeWidth: 1.2}),
  Plot.text(hourRows, {y: "k", text: "left", frameAnchor: "left", textAnchor: "end", dx: -2, fontSize: 11.5, fontWeight: "bold", fill: "#000"}),
  Plot.text(hourRows, {y: "k", text: "right", frameAnchor: "right", textAnchor: "start", dx: 4, fontSize: 11.5, fontWeight: "bold", fill: "#000"}),
  Plot.text(dcRows, {y: "k", text: d => String(d.v), frameAnchor: "right", textAnchor: "start", dx: 52, fontSize: 8.5, fill: "#000"})
);

const chart = Plot.plot({
  width: 1570,
  height: 1534,
  marginLeft: 50,
  marginRight: 82,
  marginTop: 51,
  marginBottom: 44,
  style: {fontFamily: "'DejaVu Sans Mono', monospace", background: "#fff", color: "#000"},
  x: {domain: [0, 15], label: null},
  y: {domain: [-0.5, 47.5], reverse: true, axis: null},
  marks
});
document.getElementById("chart").appendChild(chart);
</script>
</body></html>
